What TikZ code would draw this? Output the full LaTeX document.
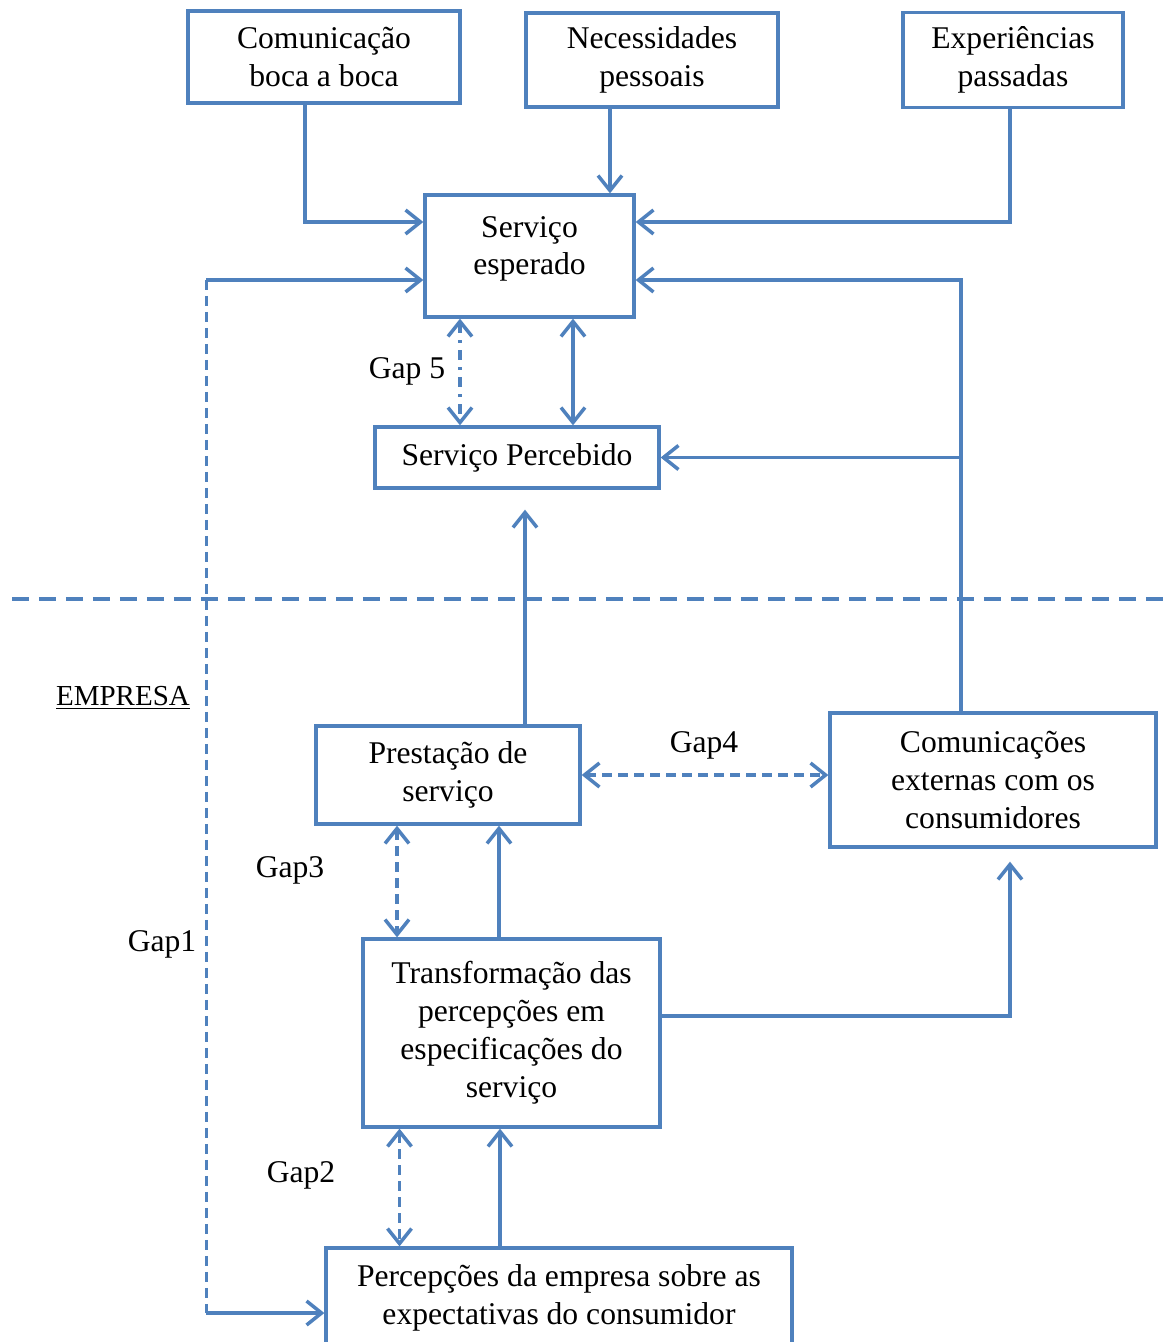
\documentclass[tikz,border=0pt]{standalone}
\usepackage{fontspec}
\setmainfont{Liberation Serif}
\usetikzlibrary{arrows.meta}
\definecolor{gapblue}{RGB}{79,129,189}
\begin{document}
\begin{tikzpicture}[x=0.02cm, y=-0.02cm,
        box/.style={rectangle, draw=gapblue, line width=1.9pt, align=center, inner sep=0pt, font=\fontsize{18}{21.6}\selectfont},
        lbl/.style={font=\fontsize{18}{21.6}\selectfont},
        arr/.style={draw=gapblue, line width=2pt, -{Straight Barb[length=0.3cm, width=0.48cm, line width=2pt]}},
        dbl/.style={arr, {Straight Barb[length=0.3cm, width=0.48cm, line width=2pt]}-{Straight Barb[length=0.3cm, width=0.48cm, line width=2pt]}},
        gapdash/.style={dbl, dash pattern=on 0.2cm off 0.12cm},
        gapdot/.style={dbl, dash pattern=on 0.2cm off 0.14cm on 0.06cm off 0.14cm}
    ]
    \useasboundingbox (0,0) rectangle (1166,1342);

    % lado do consumidor
    \node[box, minimum width=5.44cm, minimum height=1.84cm] (boca) at (324,57) {Comunicação\\boca a boca};
    \node[box, minimum width=5.04cm, minimum height=1.88cm] (nec) at (652,60) {Necessidades\\pessoais};
    \node[box, minimum width=4.40cm, minimum height=1.90cm] (exp) at (1013,60) {Experiências\\passadas};
    \node[box, minimum width=4.18cm, minimum height=2.44cm, text depth=0.42cm] (esp) at (529.5,256) {Serviço\\esperado};
    \node[box, minimum width=5.68cm, minimum height=1.22cm] (perc) at (517,457.5) {Serviço Percebido};

    \draw[gapblue, line width=2pt, dash pattern=on 0.34cm off 0.2cm] (12,599) -- (1166,599);
    \node[lbl, font=\fontsize{16.5}{20}\selectfont] (empresa) at (123,698) {\underline{EMPRESA}};

    % lado da empresa
    \node[box, minimum width=5.28cm, minimum height=1.96cm] (prest) at (448,775) {Prestação de\\serviço};
    \node[box, minimum width=6.52cm, minimum height=2.68cm] (ext) at (993,780) {Comunicações\\externas com os\\consumidores};
    \node[box, minimum width=5.94cm, minimum height=3.76cm] (tr) at (511.5,1033) {Transformação das\\percepções em\\especificações do\\serviço};
    \node[box, minimum width=9.32cm, minimum height=2.0cm] (pe) at (559,1298) {Percepções da empresa sobre as\\expectativas do consumidor};

    % ligações
    \draw[arr] ([xshift=-0.38cm]boca.south) |- ([yshift=0.68cm]esp.west);
    \coordinate (n1) at ([xshift=-0.84cm]nec.south);
    \draw[arr] (n1) -- (n1 |- esp.north);
    \draw[arr] ([xshift=-0.06cm]exp.south) |- ([yshift=0.68cm]esp.east);
    \coordinate (c1) at ([xshift=-0.64cm]ext.north);
    \draw[arr] (c1) |- ([yshift=-0.48cm]esp.east);
    \draw[arr] (c1 |- perc.east) -- (perc.east);

    \coordinate (g5) at ([xshift=-1.39cm]esp.south);
    \draw[gapdot] (g5) -- (g5 |- perc.north);
    \coordinate (s5) at ([xshift=0.87cm]esp.south);
    \draw[dbl] (s5) -- (s5 |- perc.north);
    \node[lbl] (gap5) at (407,371) {Gap 5};

    \coordinate (p1) at ([xshift=1.54cm]prest.north);
    \draw[arr, shorten >=0.4cm] (p1) -- (p1 |- perc.south);
    \draw[gapdash] (prest.east) -- (prest.east -| ext.west);
    \node[lbl] (gap4) at (704,745) {Gap4};

    \coordinate (g3) at ([xshift=-1.02cm]prest.south);
    \draw[gapdash] (g3) -- (g3 |- tr.north);
    \coordinate (t1) at ([xshift=-0.25cm]tr.north);
    \draw[arr] (t1) -- (t1 |- prest.south);
    \node[lbl] (gap3) at (290,870) {Gap3};
    \draw[arr, shorten >=0.26cm] ([yshift=0.34cm]tr.east) -| ([xshift=0.34cm]ext.south);

    \coordinate (g2) at ([xshift=-2.24cm]tr.south);
    \draw[gapdash] (g2) -- (g2 |- pe.north);
    \coordinate (e1) at ([xshift=-1.18cm]pe.north);
    \draw[arr] (e1) -- (e1 |- tr.south);
    \node[lbl] (gap2) at (301,1175) {Gap2};

    \coordinate (g1a) at ([xshift=-4.34cm, yshift=-0.48cm]esp.west);
    \coordinate (g1b) at ([yshift=-0.3cm]pe.west);
    \draw[gapblue, line width=2pt, dash pattern=on 0.2cm off 0.12cm] (g1a) -- (g1a |- g1b);
    \draw[arr] (g1a) -- ([yshift=-0.48cm]esp.west);
    \draw[arr] (g1a |- g1b) -- (g1b);
    \node[lbl] (gap1) at (162,944) {Gap1};
\end{tikzpicture}
\end{document}
